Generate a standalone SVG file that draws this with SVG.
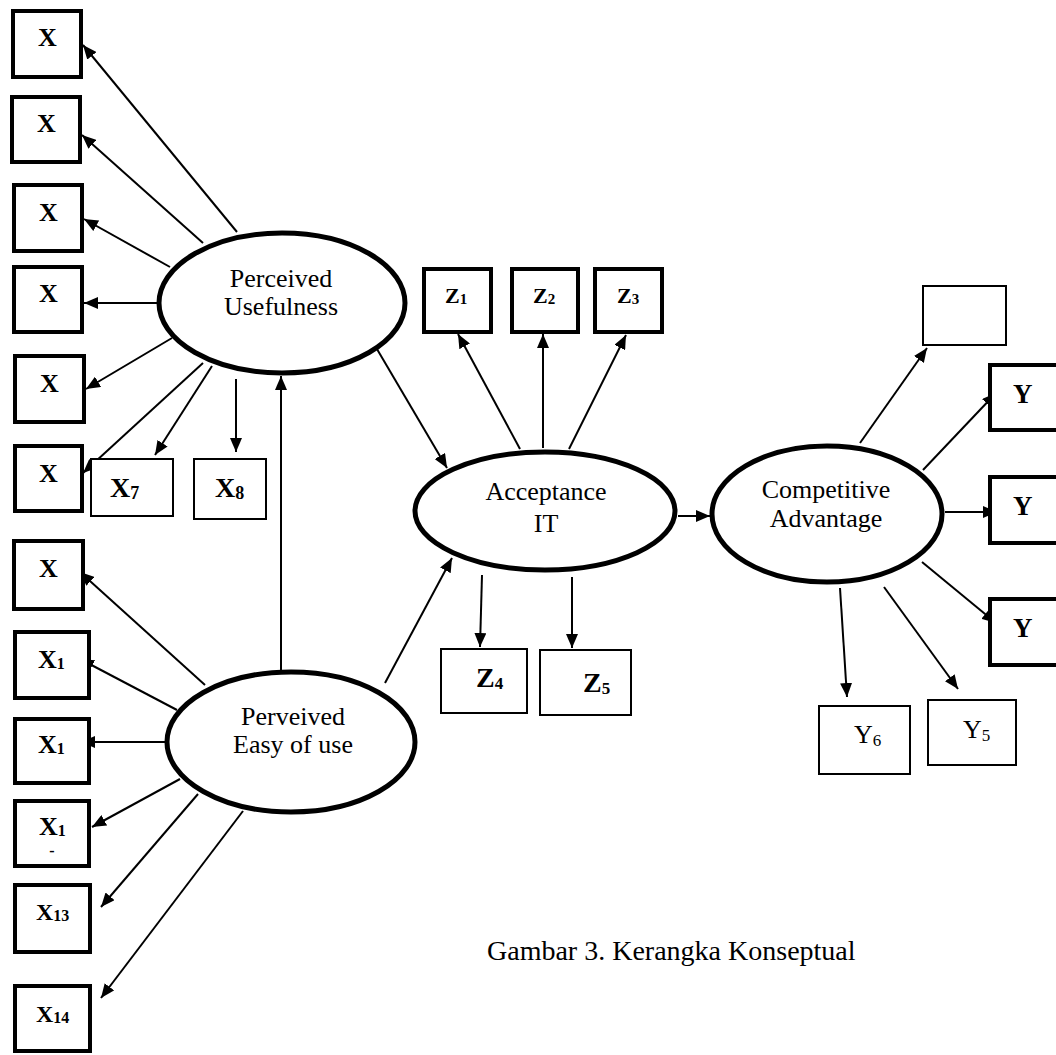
<svg xmlns="http://www.w3.org/2000/svg" width="1056" height="1055" viewBox="0 0 1056 1055">
<style>
text{font-family:"Liberation Serif","Times New Roman",serif;fill:#000}
.thick{fill:#fff;stroke:#000;stroke-width:4}
.thin{fill:#fff;stroke:#000;stroke-width:2}
.ell{fill:#fff;stroke:#000;stroke-width:5}
.lbl{font-size:26px;text-anchor:middle}
.b{font-weight:bold;font-size:26px}
.c{stroke:#000;stroke-width:2;fill:none;marker-end:url(#ah)}
</style>
<defs>
<marker id="ah" viewBox="0 0 14 12" refX="14" refY="6" markerWidth="14" markerHeight="12" orient="auto" markerUnits="userSpaceOnUse"><path d="M0,0 L14,6 L0,12 z" fill="#000"/></marker>
</defs>
<rect width="1056" height="1055" fill="#fff"/>

<g id="connectors">
<line class="c" x1="237" y1="232" x2="83" y2="45"/>
<line class="c" x1="203" y1="243" x2="82" y2="135"/>
<line class="c" x1="170" y1="267" x2="84" y2="219"/>
<line class="c" x1="157" y1="303" x2="84" y2="303"/>
<line class="c" x1="172" y1="338" x2="86" y2="389"/>
<line class="c" x1="203" y1="363" x2="83" y2="473"/>
<line class="c" x1="212" y1="366" x2="155" y2="455"/>
<line class="c" x1="236" y1="379" x2="236" y2="452"/>
<line class="c" x1="281" y1="670" x2="281" y2="376"/>
<line class="c" x1="205" y1="685" x2="80" y2="572"/>
<line class="c" x1="177" y1="710" x2="80" y2="659"/>
<line class="c" x1="167" y1="742" x2="81" y2="742"/>
<line class="c" x1="180" y1="779" x2="92" y2="827"/>
<line class="c" x1="198" y1="794" x2="101" y2="907"/>
<line class="c" x1="243" y1="811" x2="101" y2="998"/>
<line class="c" x1="374" y1="344" x2="447" y2="468"/>
<line class="c" x1="385" y1="683" x2="452" y2="558"/>
<line class="c" x1="520" y1="449" x2="458" y2="334"/>
<line class="c" x1="543" y1="448" x2="543" y2="334"/>
<line class="c" x1="569" y1="449" x2="626" y2="335"/>
<line class="c" x1="482" y1="575" x2="480" y2="647"/>
<line class="c" x1="572" y1="577" x2="572" y2="648"/>
<line class="c" x1="678" y1="516" x2="710" y2="516"/>
<line class="c" x1="860" y1="443" x2="927" y2="348"/>
<line class="c" x1="923" y1="470" x2="996" y2="393"/>
<line class="c" x1="945" y1="512" x2="997" y2="512"/>
<line class="c" x1="922" y1="562" x2="996" y2="623"/>
<line class="c" x1="840" y1="588" x2="847" y2="697"/>
<line class="c" x1="884" y1="587" x2="958" y2="689"/>
</g>

<g id="perceived-usefulness"><ellipse class="ell" cx="282" cy="303" rx="123" ry="70"/><text class="lbl" x="281" y="287">Perceived</text><text class="lbl" x="281" y="315">Usefulness</text></g>
<g id="perceived-easy"><ellipse class="ell" cx="291" cy="742" rx="124" ry="70"/><text class="lbl" x="293" y="725">Perveived</text><text class="lbl" x="293" y="753">Easy of use</text></g>
<g id="acceptance-it"><ellipse class="ell" cx="545" cy="511" rx="130" ry="59"/><text class="lbl" x="546" y="500">Acceptance</text><text class="lbl" x="546" y="532">IT</text></g>
<g id="competitive-advantage"><ellipse class="ell" cx="827" cy="514" rx="115" ry="68"/><text class="lbl" x="826" y="498">Competitive</text><text class="lbl" x="826" y="527">Advantage</text></g>

<g id="x1"><rect class="thick" x="13" y="11" width="68" height="66"/><text class="b" x="38" y="46">X</text></g>
<g id="x2"><rect class="thick" x="12" y="97" width="68" height="65"/><text class="b" x="37" y="132">X</text></g>
<g id="x3"><rect class="thick" x="14" y="185" width="68" height="66"/><text class="b" x="39" y="221">X</text></g>
<g id="x4"><rect class="thick" x="14" y="267" width="68" height="65"/><text class="b" x="39" y="302">X</text></g>
<g id="x5"><rect class="thick" x="15" y="356" width="69" height="66"/><text class="b" x="40" y="392">X</text></g>
<g id="x6"><rect class="thick" x="15" y="446" width="67" height="65"/><text class="b" x="39" y="482">X</text></g>
<g id="x7"><rect class="thin" x="91" y="459" width="82" height="57"/><text x="110" y="497" font-weight="bold" font-size="28">X<tspan font-size="18" dy="2">7</tspan></text></g>
<g id="x8"><rect class="thin" x="194" y="459" width="72" height="60"/><text x="215" y="497" font-weight="bold" font-size="28">X<tspan font-size="18" dy="2">8</tspan></text></g>
<g id="x9"><rect class="thick" x="14" y="541" width="69" height="68"/><text class="b" x="39" y="577">X</text></g>
<g id="x10"><rect class="thick" x="15" y="632" width="74" height="66"/><text class="b" x="38" y="668">X<tspan font-size="16" dy="1">1</tspan></text></g>
<g id="x11"><rect class="thick" x="15" y="719" width="74" height="64"/><text class="b" x="38" y="753">X<tspan font-size="16" dy="1">1</tspan></text></g>
<g id="x12"><rect class="thick" x="15" y="801" width="74" height="65"/><text class="b" x="39" y="835">X<tspan font-size="16" dy="1">1</tspan></text><text x="52" y="856" font-size="16" font-weight="bold" text-anchor="middle">-</text></g>
<g id="x13"><rect class="thick" x="15" y="885" width="75" height="67"/><text x="36" y="920" font-weight="bold" font-size="24">X<tspan font-size="16" dy="1">13</tspan></text></g>
<g id="x14"><rect class="thick" x="15" y="986" width="75" height="65"/><text x="36" y="1022" font-weight="bold" font-size="24">X<tspan font-size="16" dy="1">14</tspan></text></g>

<g id="z1"><rect class="thick" x="424" y="269" width="67" height="63"/><text x="445" y="303" font-weight="bold" font-size="22">Z<tspan font-size="15" dy="1">1</tspan></text></g>
<g id="z2"><rect class="thick" x="512" y="269" width="66" height="63"/><text x="533" y="303" font-weight="bold" font-size="22">Z<tspan font-size="15" dy="1">2</tspan></text></g>
<g id="z3"><rect class="thick" x="595" y="269" width="67" height="63"/><text x="617" y="303" font-weight="bold" font-size="22">Z<tspan font-size="15" dy="1">3</tspan></text></g>
<g id="z4"><rect class="thin" x="441" y="649" width="86" height="64"/><text x="476" y="687" font-weight="bold" font-size="28">Z<tspan font-size="17" dy="2">4</tspan></text></g>
<g id="z5"><rect class="thin" x="540" y="650" width="91" height="65"/><text x="583" y="692" font-weight="bold" font-size="28">Z<tspan font-size="17" dy="2">5</tspan></text></g>

<g id="y-empty"><rect class="thin" x="923" y="286" width="83" height="59"/></g>
<g id="y1"><rect class="thick" x="990" y="365" width="100" height="65"/><text x="1013" y="403" font-weight="bold" font-size="27">Y</text></g>
<g id="y2"><rect class="thick" x="990" y="477" width="100" height="66"/><text x="1013" y="515" font-weight="bold" font-size="27">Y</text></g>
<g id="y3"><rect class="thick" x="990" y="599" width="100" height="66"/><text x="1013" y="637" font-weight="bold" font-size="27">Y</text></g>
<g id="y6"><rect class="thin" x="819" y="706" width="91" height="68"/><text x="854" y="743" font-size="26">Y<tspan font-size="17" dy="3">6</tspan></text></g>
<g id="y5"><rect class="thin" x="928" y="700" width="88" height="65"/><text x="963" y="738" font-size="26">Y<tspan font-size="17" dy="3">5</tspan></text></g>

<text x="487" y="960" font-size="28">Gambar 3. Kerangka Konseptual</text>
</svg>
